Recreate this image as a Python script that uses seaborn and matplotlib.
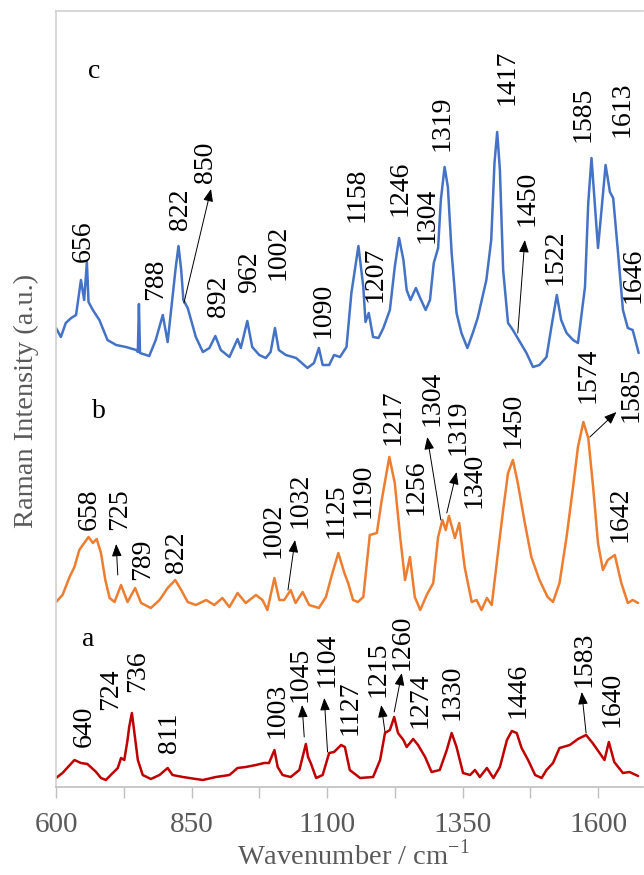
import matplotlib
matplotlib.use("Agg")
import matplotlib.pyplot as plt
import pandas as pd
import seaborn as sns

# ---------------- data ----------------
# spectrum a (red)
a_wn = [600, 612, 634, 646, 658, 674, 683, 692, 701, 714, 720, 726, 732, 735, 740, 744, 751, 760, 775,
        791, 806, 815, 834, 858, 871, 895, 920, 935, 950, 969, 984, 993, 1003, 1009, 1018, 1033, 1049,
        1055, 1061, 1065, 1070, 1080, 1092, 1104, 1113, 1126, 1133, 1142, 1161, 1185, 1198, 1207, 1216,
        1224, 1231, 1241, 1247, 1259, 1268, 1281, 1293, 1308, 1321, 1330, 1339, 1351, 1364, 1373, 1382,
        1395, 1407, 1419, 1432, 1441, 1450, 1459, 1471, 1484, 1496, 1505, 1517, 1529, 1548, 1563, 1578,
        1590, 1603, 1612, 1620, 1630, 1646, 1658, 1674]
a_int = [9, 14, 27, 24, 23, 15, 9, 7, 12, 19, 29, 27, 47, 60, 74, 57, 27, 12, 8,
         12, 19, 12, 10, 8, 7, 10, 12, 19, 20, 22, 24, 24, 37, 20, 12, 10, 17,
         30, 43, 30, 24, 9, 12, 34, 35, 42, 40, 17, 9, 10, 27, 54, 57,
         70, 54, 47, 40, 48, 42, 30, 15, 17, 37, 54, 40, 14, 12, 17, 10,
         19, 9, 20, 47, 56, 54, 39, 27, 12, 9, 17, 24, 39, 42, 48, 52,
         44, 34, 27, 45, 25, 14, 15, 11]

# spectrum b (orange)
b_wn = [600, 612, 625, 634, 643, 652, 660, 668, 675, 683, 691, 699, 708, 720, 732, 746, 757, 775, 791,
        806, 820, 831, 843, 858, 877, 892, 907, 920, 935, 950, 969, 981, 990, 1003, 1012, 1021, 1033,
        1042, 1055, 1067, 1085, 1098, 1110, 1121, 1132, 1139, 1148, 1157, 1167, 1179, 1192, 1201, 1215,
        1225, 1235, 1244, 1253, 1262, 1272, 1284, 1296, 1305, 1313, 1319, 1325, 1336, 1344, 1354, 1367,
        1376, 1385, 1395, 1404, 1416, 1425, 1434, 1443, 1452, 1465, 1477, 1492, 1507, 1517, 1529, 1542,
        1554, 1563, 1573, 1582, 1591, 1600, 1609, 1618, 1631, 1643, 1655, 1664, 1674]
b_int = [10, 17, 35, 45, 62, 69, 75, 69, 73, 59, 32, 14, 10, 27, 10, 24, 9, 4, 12,
         24, 32, 22, 10, 7, 12, 7, 14, 5, 19, 9, 17, 12, 2, 34, 12, 12, 22,
         9, 20, 7, 4, 15, 39, 59, 39, 29, 12, 10, 15, 77, 79, 112, 155,
         129, 75, 32, 55, 15, 2, 17, 29, 75, 92, 82, 96, 74, 89, 45, 10,
         12, 2, 14, 7, 62, 102, 139, 152, 129, 89, 55, 32, 15, 10, 29, 75,
         125, 165, 190, 174, 125, 69, 42, 52, 57, 29, 9, 12, 9]

# spectrum c (blue)
c_wn = [600, 609, 618, 628, 637, 646, 652, 657, 660, 668, 680, 695, 711, 729, 748, 751, 753, 755, 772,
        784, 797, 806, 815, 821, 826, 831, 835, 843, 858, 871, 883, 894, 904, 920, 935, 941, 953, 962,
        975, 987, 996, 1004, 1011, 1024, 1043, 1064, 1076, 1085, 1092, 1104, 1113, 1124, 1136, 1145,
        1158, 1167, 1171, 1177, 1185, 1195, 1204, 1216, 1225, 1233, 1241, 1247, 1254, 1264, 1271, 1282,
        1290, 1297, 1305, 1310, 1317, 1323, 1330, 1339, 1348, 1359, 1369, 1378, 1394, 1403, 1409, 1414,
        1419, 1425, 1434, 1443, 1456, 1468, 1480, 1492, 1505, 1514, 1524, 1532, 1542, 1554, 1563, 1576,
        1582, 1588, 1594, 1600, 1607, 1614, 1622, 1628, 1637, 1646, 1655, 1664, 1675]
c_int = [44, 35, 49, 54, 57, 92, 72, 110, 70, 62, 52, 32, 27, 25, 22, 20, 68, 19, 16,
         32, 57, 30, 75, 105, 126, 102, 72, 64, 35, 20, 24, 36, 22, 15, 33, 24, 51, 25,
         17, 14, 20, 44, 22, 17, 14, 4, 9, 24, 7, 7, 17, 15, 25, 79,
         126, 85, 50, 59, 35, 34, 44, 62, 105, 134, 112, 82, 72, 84, 75, 62,
         72, 109, 124, 172, 205, 185, 119, 59, 39, 24, 39, 54, 92, 132, 209, 240,
         202, 102, 49, 42, 30, 19, 5, 7, 15, 45, 77, 52, 39, 32, 29, 85,
         169, 214, 169, 124, 165, 207, 180, 174, 119, 62, 44, 42, 19]

offsets = {"a": 0, "b": 175, "c": 415}
colors = {"a": "#C00000", "b": "#ED7D31", "c": "#4472C4"}

# peak labels: text, x position (cm-1), bottom of text (intensity units)
lab_a = ["640", "724", "736", "811", "1003", "1045", "1104", "1127", "1215", "1260", "1274", "1330", "1446", "1583", "1640"]
lab_a_x = [652, 700, 751, 810, 1008, 1050, 1100, 1142, 1194, 1238, 1272, 1331, 1452, 1574, 1626]
lab_a_y = [40, 77, 95, 34, 49, 85, 100, 52, 90, 117, 59, 67, 69, 100, 60]

lab_b = ["658", "725", "789", "822", "1002", "1032", "1125", "1190", "1217", "1256", "1304", "1319", "1340", "1450", "1574", "1585", "1642"]
lab_b_x = [661, 718, 760, 823, 1000, 1050, 1117, 1166, 1222, 1264, 1294, 1342, 1371, 1443, 1582, 1661, 1641]
lab_b_y = [257, 257, 207, 214, 229, 259, 249, 269, 342, 272, 361, 332, 279, 339, 384, 365, 245]

lab_c = ["656", "788", "822", "850", "892", "962", "1002", "1090", "1158", "1207", "1246", "1304", "1319", "1417", "1450", "1522", "1585", "1613", "1646"]
lab_c_x = [650, 784, 829, 875, 899, 958, 1010, 1093, 1155, 1189, 1235, 1284, 1312, 1432, 1469, 1521, 1572, 1644, 1664]
lab_c_y = [525, 487, 557, 604, 470, 494, 507, 449, 565, 485, 571, 544, 636, 682, 561, 502, 645, 650, 484]

# arrows: (from x, from y, to x, to y)
arrows = [
    (1058, 50, 1054, 82), (1101, 35, 1095, 89), (1207, 55, 1200, 82),
    (1224, 75, 1238, 114), (1578, 54, 1570, 95),
    (714, 212, 711, 243), (1028, 197, 1041, 247), (1310, 267, 1285, 350),
    (1321, 274, 1339, 315), (1585, 350, 1634, 375),
    (836, 484, 886, 598), (1452, 454, 1465, 547),
]
sample_letters = ["c", "b", "a"]
letter_x = [670, 679, 659]
letter_y = [715, 376, 147]

# ---------------- build ----------------
frames = []
for key, wn, inten in [("a", a_wn, a_int), ("b", b_wn, b_int), ("c", c_wn, c_int)]:
    assert len(wn) == len(inten), key
    frames.append(pd.DataFrame({"wn": wn, "I": [v + offsets[key] for v in inten], "s": key}))
df = pd.concat(frames, ignore_index=True)

sns.set_theme(style="white")
plt.rcParams["font.family"] = ["Liberation Serif", "DejaVu Serif"]
plt.rcParams["mathtext.fontset"] = "custom"
plt.rcParams["mathtext.rm"] = "Liberation Serif"

W, H = 644, 875
fig = plt.figure(figsize=(W / 100, H / 100), dpi=100)
ax = fig.add_axes([56 / W, (H - 787) / H, (643 - 56) / W, (787 - 11) / H])

sns.lineplot(data=df, x="wn", y="I", hue="s", palette=colors, estimator=None,
             sort=False, legend=False, linewidth=1.8, ax=ax)

ax.set_xlim(600, 600 + 587 / 0.542)
ax.set_ylim(0, 776)
ax.set_xticks([600, 850, 1100, 1350, 1600])
ax.set_xticks([725, 975, 1225, 1475], minor=True)
ax.set_yticks([])
ax.tick_params(axis="x", which="both", direction="out", length=8, width=1,
               color="#BFBFBF", bottom=True)
ax.tick_params(axis="x", which="major", labelsize=21, labelcolor="#595959", pad=10)

for side in ["left", "top"]:
    ax.spines[side].set_color("#D0D0D0")
    ax.spines[side].set_linewidth(1.2)
ax.spines["bottom"].set_color("#BFBFBF")
ax.spines["bottom"].set_linewidth(1.2)
ax.spines["right"].set_visible(False)

ax.set_xlabel("Wavenumber / cm$^{\\mathregular{-1}}$", fontsize=20.5, color="#595959")
ax.xaxis.set_label_coords((353 - 56) / 587, -(855 - 787) / 776)
ax.xaxis.label.set_va("center")
ax.set_ylabel("Raman Intensity (a.u.)", fontsize=20.5, color="#595959")
ax.yaxis.set_label_coords((26 - 56) / 587, (787 - 401) / 776)
ax.yaxis.label.set_va("center")

for labs, xs, ys in [(lab_a, lab_a_x, lab_a_y), (lab_b, lab_b_x, lab_b_y), (lab_c, lab_c_x, lab_c_y)]:
    for t, x, y in zip(labs, xs, ys):
        ax.text(x, y, t, rotation=90, ha="center", va="bottom", fontsize=20, color="black")

for x0, y0, x1, y1 in arrows:
    ax.annotate("", xy=(x1, y1), xytext=(x0, y0),
                arrowprops=dict(arrowstyle="-|>,head_length=0.5,head_width=0.2",
                                color="black", lw=0.7, mutation_scale=15,
                                shrinkA=0, shrinkB=0))

for t, x, y in zip(sample_letters, letter_x, letter_y):
    ax.text(x, y, t, ha="center", va="center", fontsize=20, color="black")

fig.savefig("out.png", dpi=100)
